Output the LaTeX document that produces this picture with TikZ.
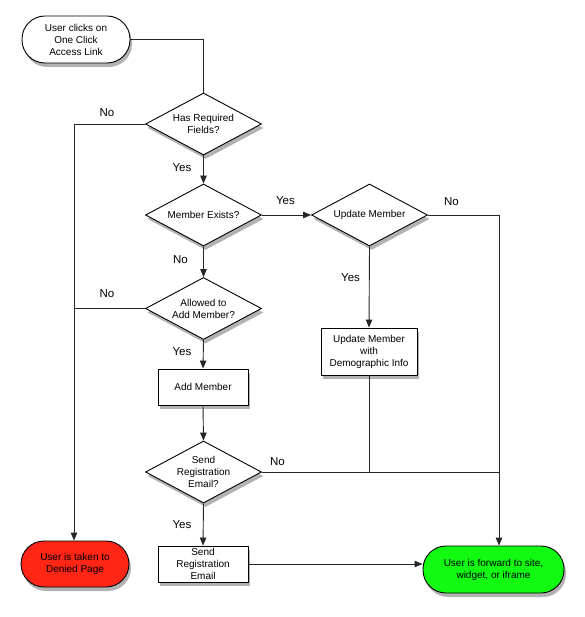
\documentclass[tikz,border=0pt]{standalone}
\usepackage{fontspec}
\setmainfont{Liberation Sans}
\usetikzlibrary{shapes.geometric,arrows.meta,shadows}
\definecolor{denyred}{RGB}{255,38,22}
\definecolor{okgreen}{RGB}{18,250,18}
\begin{document}
\begin{tikzpicture}[x=1pt,y=-1pt,
  every node/.style={font=\fontsize{10}{12}\selectfont, align=center},
  shad/.style={drop shadow={shadow xshift=2pt,shadow yshift=-4pt,opacity=0.3,fill=black}},
  term/.style={draw=black, line width=0.9pt, rectangle, rounded corners=23pt, minimum height=47pt, shad},
  dec/.style={draw=black, line width=0.9pt, diamond, shape aspect=1.87, inner sep=-6pt, minimum width=116pt, minimum height=62pt, fill=white, shad},
  proc/.style={draw=black, line width=0.9pt, rectangle, fill=white, inner sep=0pt, shad},
  lab/.style={font=\fontsize{11.5}{13}\selectfont},
  conn/.style={draw=black!85, line width=0.9pt},
  arr/.style={conn, -{Triangle[length=8pt,width=6.5pt]}}
]
\useasboundingbox (0,0) rectangle (584,617);

\node[term, fill=white, minimum width=108pt] (start) at (76,39.5) {User clicks on\\One Click\\Access Link};
\node[dec] (d1) at (203.5,124) {Has Required\\Fields?};
\node[dec] (d2) at (203.5,215) {Member Exists?};
\node[dec] (um) at (369.5,215) {Update Member};
\node[dec] (d3) at (203.5,308.5) {Allowed to\\Add Member?};
\node[proc, minimum width=96pt, minimum height=47pt] (umd) at (369,351.5) {Update Member\\with\\Demographic Info};
\node[proc, minimum width=90pt, minimum height=36pt] (add) at (203,387) {Add Member};
\node[dec] (d4) at (203.5,472) {Send\\Registration\\Email?};
\node[proc, minimum width=90pt, minimum height=36pt] (sre) at (203,564) {Send\\Registration\\Email};
\node[term, fill=denyred, minimum width=108pt, minimum height=46pt] (denied) at (75,564) {User is taken to\\Denied Page};
\node[term, fill=okgreen, minimum width=141pt] (green) at (493.5,569.5) {User is forward to site,\\widget, or iframe};

\coordinate (cx) at (499,215);
\coordinate (lx) at (74,124);

% connectors
\draw[conn] (start.east) -| (d1.north);
\draw[arr] (d1.west) -| (lx |- denied.north);
\draw[conn] (d3.west) -- (d3.west -| lx);
\draw[arr] (d1.south) -- (d2.north);
\draw[arr] (d2.east) -- (um.west);
\draw[arr] (d2.south) -- (d3.north);
\draw[arr] (d3.south) -- (add.north);
\draw[arr] (add.south) -- (d4.north);
\draw[arr] (d4.south) -- (sre.north);
\draw[arr] (sre.east) -- (sre.east -| green.west);
\draw[arr] (um.south) -- (umd.north);
\draw[arr] (um.east) -| (cx |- green.north);
\draw[conn] (umd.south) -- (umd.south |- d4.east);
\draw[conn] (d4.east) -- (d4.east -| cx);

% labels
\node[lab] (l1) at (107,113) {No};
\node[lab] (l2) at (182,168) {Yes};
\node[lab] (l3) at (285.5,201) {Yes};
\node[lab] (l4) at (451.5,202) {No};
\node[lab] (l5) at (180.5,260) {No};
\node[lab] (l6) at (350.5,277.5) {Yes};
\node[lab] (l7) at (107,294) {No};
\node[lab] (l8) at (182,352) {Yes};
\node[lab] (l9) at (277.5,462) {No};
\node[lab] (l10) at (182,525) {Yes};
\end{tikzpicture}
\end{document}
